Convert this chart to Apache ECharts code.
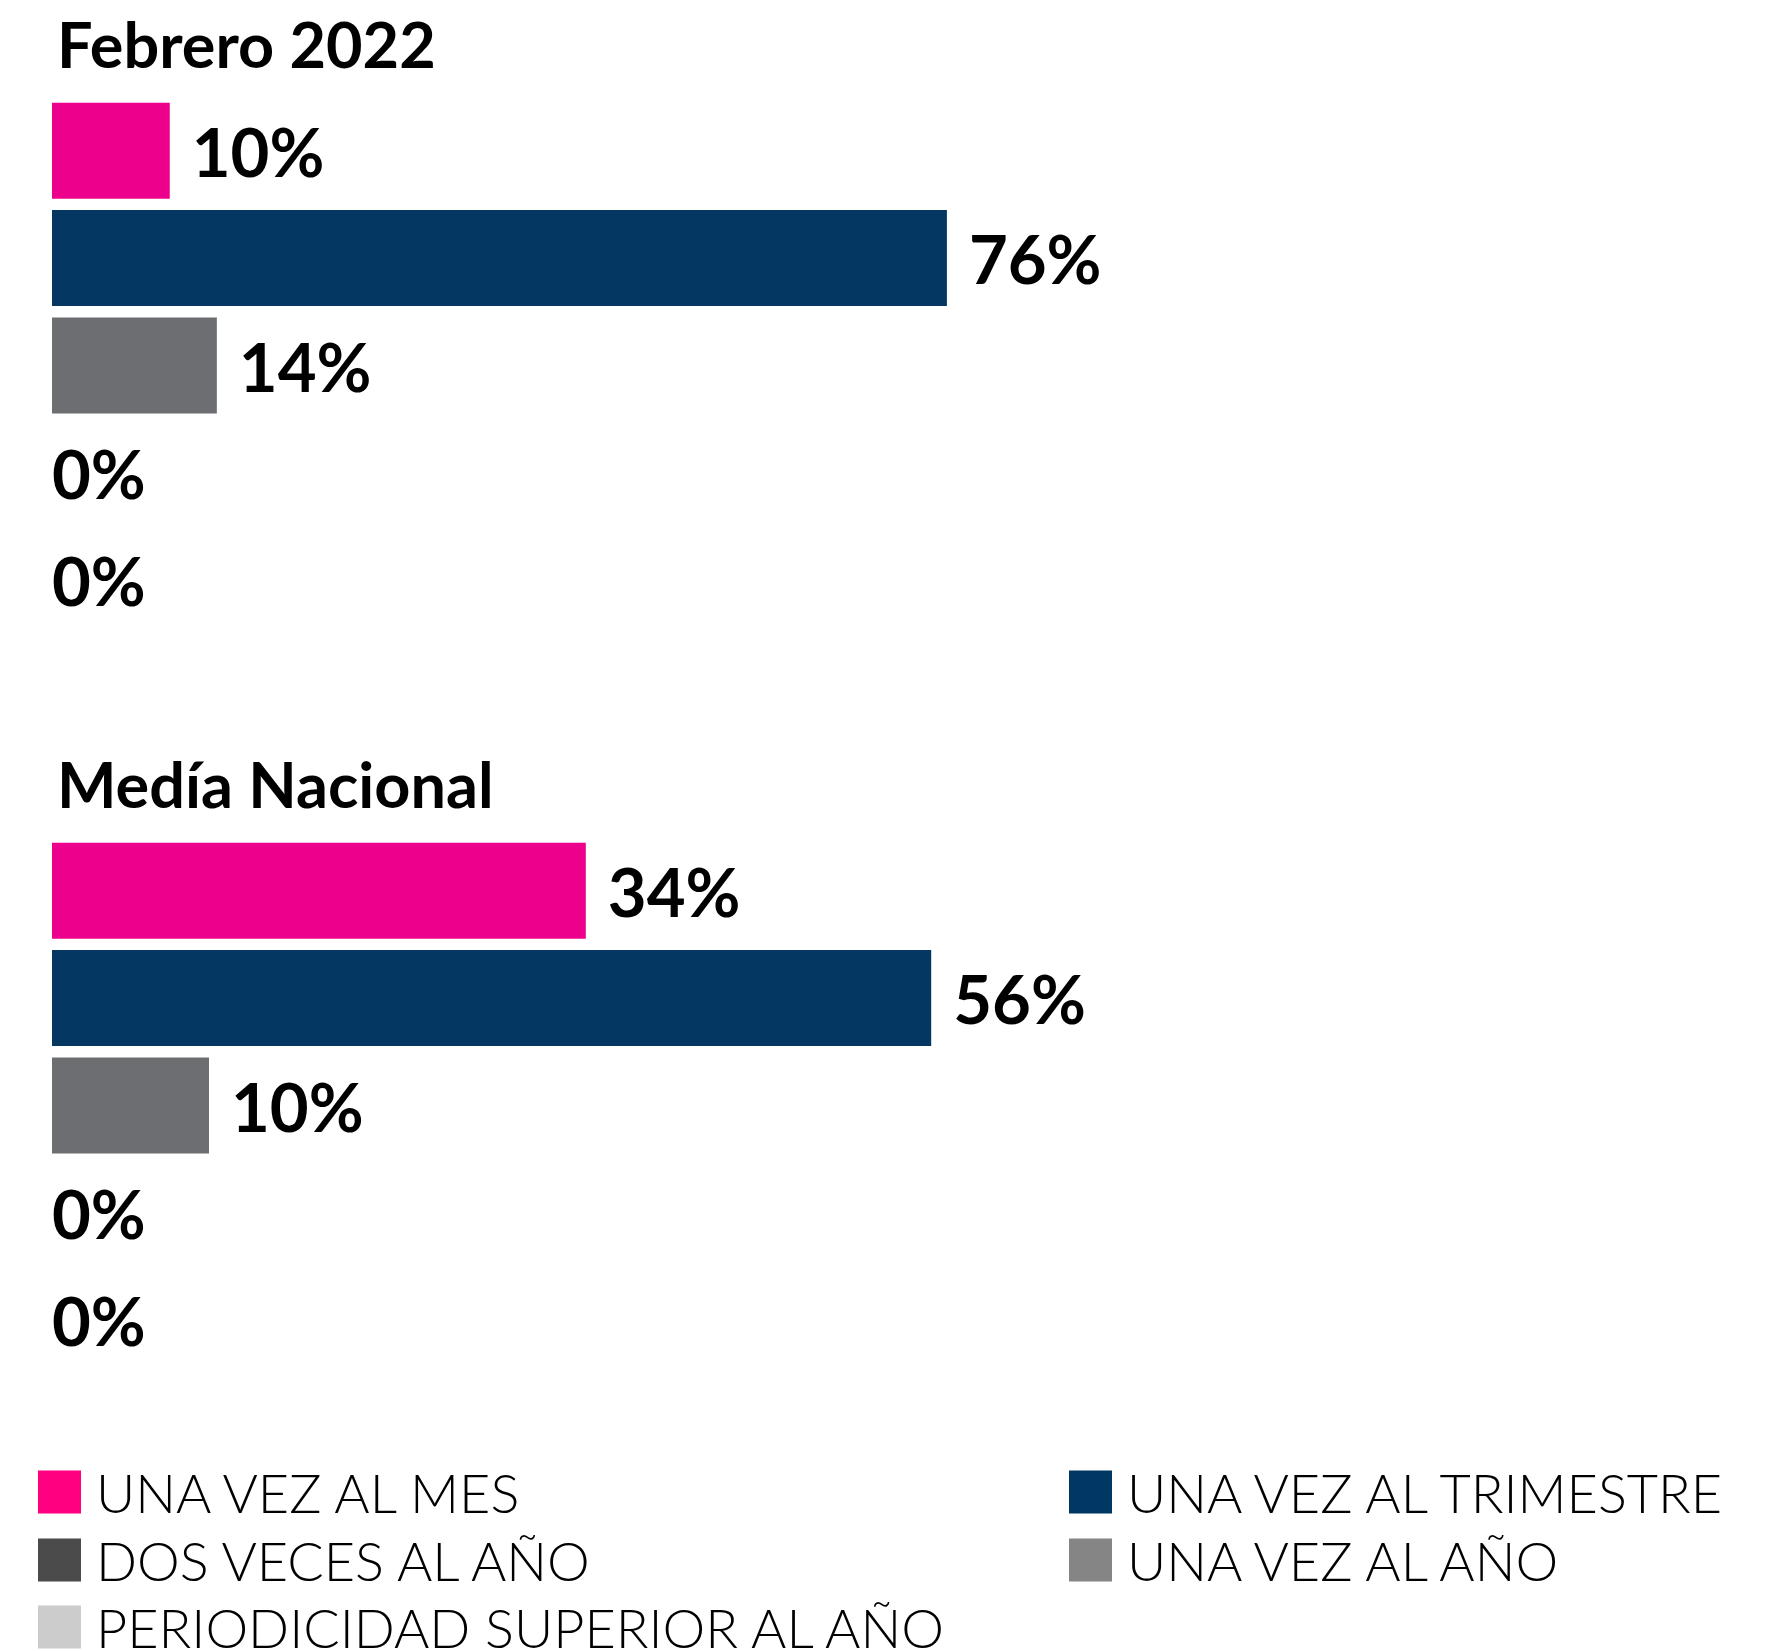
<!DOCTYPE html>
<html>
<head>
<meta charset="utf-8">
<script src="https://cdn.jsdelivr.net/npm/echarts@6/dist/echarts.min.js"></script>
<style>
  html, body { margin: 0; padding: 0; background: #ffffff; }
  #chart { width: 1782px; height: 1651px; }
</style>
</head>
<body>
<div id="chart"></div>
<script>
(function(){
  // --- data ---
  var groups = ['Febrero 2022', 'Medía Nacional'];
  var categories = ['UNA VEZ AL MES', 'UNA VEZ AL TRIMESTRE', 'DOS VECES AL AÑO', 'UNA VEZ AL AÑO', 'PERIODICIDAD SUPERIOR AL AÑO'];
  var febrero = [10, 76, 14, 0, 0];
  var nacional = [34, 56, 10, 0, 0];
  var axisMax = [80, 60];

  var barColors = ['#ec008c', '#043863', '#6d6e71', '#858585', '#cccccc'];
  var legendColors = ['#ff0080', '#003864', '#4b4b4b', '#858585', '#cccccc'];
  var ink = '#000000';
  var font = 'Lato';

  var chart = echarts.init(document.getElementById('chart'), null, { renderer: 'svg' });

  var gridTops = [97, 837];
  var grids = gridTops.map(function(t){
    return { left: 52, width: 942, top: t, height: 537 };
  });

  var xAxes = axisMax.map(function(m, i){
    return { type: 'value', gridIndex: i, min: 0, max: m, show: false };
  });
  var yAxes = groups.map(function(g, i){
    return { type: 'category', gridIndex: i, data: categories, inverse: true, show: false };
  });

  var series = [];
  [febrero, nacional].forEach(function(vals, gi){
    categories.forEach(function(name, ci){
      series.push({
        name: name,
        type: 'bar',
        xAxisIndex: gi,
        yAxisIndex: gi,
        barWidth: 96,
        barGap: '-100%',
        itemStyle: { color: barColors[ci] },
        label: {
          show: true,
          position: 'right',
          distance: vals[ci] === 0 ? 0 : 22,
          formatter: '{c}%',
          color: ink,
          fontFamily: font,
          fontWeight: 'bold',
          fontSize: 67
        },
        data: categories.map(function(_, j){ return j === ci ? vals[ci] : '-'; })
      });
    });
  });

  // legend grid: [category index, left, top]
  var legendSlots = [[0, 38, 1465], [1, 1069, 1465], [2, 38, 1533], [3, 1069, 1533], [4, 38, 1600]];
  var legends = legendSlots.map(function(s){
    return {
      left: s[1], top: s[2], padding: 0,
      itemWidth: 43, itemHeight: 43,
      icon: 'rect', selectedMode: false,
      textStyle: { color: ink, fontFamily: font, fontWeight: 300, fontSize: 54, lineHeight: 43, padding: [0, 0, 0, 10] },
      data: [{ name: categories[s[0]], itemStyle: { color: legendColors[s[0]] } }]
    };
  });

  chart.setOption({
    animation: false,
    title: groups.map(function(g, i){
      return {
        text: g,
        left: 52,
        top: gridTops[i] - 90,
        textStyle: { color: ink, fontFamily: font, fontWeight: 'bold', fontSize: 63 }
      };
    }),
    legend: legends,
    grid: grids,
    xAxis: xAxes,
    yAxis: yAxes,
    series: series
  });
  window.addEventListener('resize', function(){ chart.resize(); });
})();
</script>
</body>
</html>
